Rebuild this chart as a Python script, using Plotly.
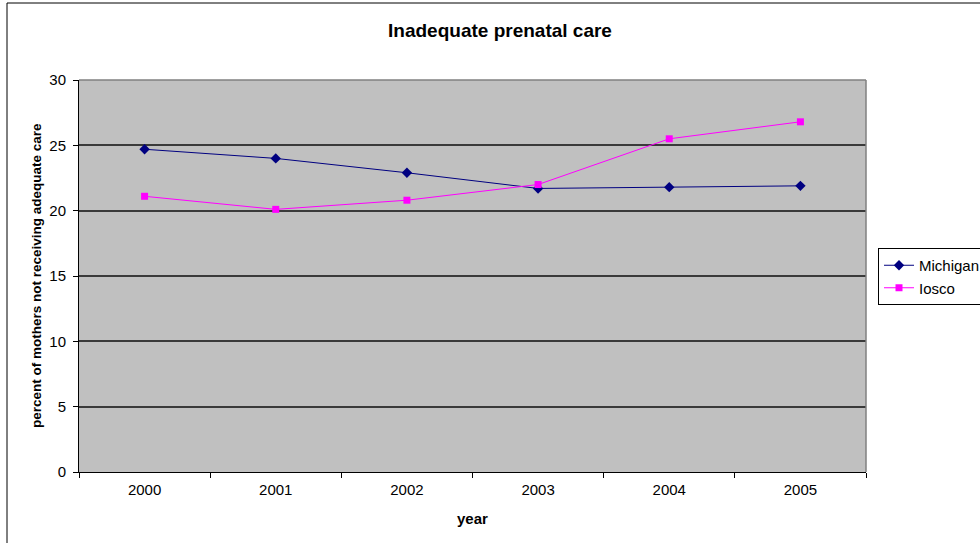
import plotly.graph_objects as go

years = ["2000", "2001", "2002", "2003", "2004", "2005"]
michigan = [24.7, 24.0, 22.9, 21.7, 21.8, 21.9]
iosco = [21.1, 20.1, 20.8, 22.0, 25.5, 26.8]
y_ticks = [0, 5, 10, 15, 20, 25, 30]

FONT = "Liberation Sans, Arial, sans-serif"

fig = go.Figure()
fig.add_trace(go.Scatter(
    x=years, y=michigan, name="Michigan", mode="lines+markers",
    line=dict(color="#000080", width=1),
    marker=dict(symbol="diamond", size=8, color="#000080"),
))
fig.add_trace(go.Scatter(
    x=years, y=iosco, name="Iosco", mode="lines+markers",
    line=dict(color="#FF00FF", width=1),
    marker=dict(symbol="square", size=7, color="#FF00FF"),
))

W, H = 980, 543
L, R, T, B = 79, 866, 80, 472
pw, ph = R - L, B - T

fig.update_layout(
    width=W, height=H,
    margin=dict(l=L, r=W - R, t=T, b=H - B, autoexpand=False),
    paper_bgcolor="white",
    plot_bgcolor="#C0C0C0",
    font=dict(family=FONT, size=15, color="black"),
    title=dict(text="<b>Inadequate prenatal care</b>", x=500 / W, xanchor="center",
               y=1 - 30 / H, yanchor="middle", font=dict(size=19, family=FONT)),
    showlegend=True,
    legend=dict(
        x=(878 - L) / pw, xanchor="left",
        y=(B - 248) / ph, yanchor="top",
        bgcolor="white", bordercolor="black", borderwidth=1,
        font=dict(size=15, family=FONT),
        tracegroupgap=0,
    ),
    xaxis=dict(
        type="category", tickson="boundaries", ticks="outside", ticklen=5,
        tickcolor="black", showline=True, linecolor="black", linewidth=1,
        showgrid=False, zeroline=False, range=[-0.5, 5.5],
        tickfont=dict(size=15), ticklabelstandoff=4,
    ),
    yaxis=dict(
        range=[0, 30], tickvals=y_ticks, ticks="outside", ticklen=5,
        tickcolor="black", showline=True, linecolor="black", linewidth=1,
        showgrid=True, gridcolor="#3a3a3a", gridwidth=1.5, zeroline=False,
        tickfont=dict(size=15), ticklabelstandoff=4,
    ),
    annotations=[
        dict(text="<b>year</b>", xref="paper", yref="paper",
             x=(472 - L) / pw, y=(B - 518) / ph, xanchor="center", yanchor="middle",
             showarrow=False, font=dict(size=15, family=FONT)),
        dict(text="<b>percent of mothers not receiving adequate care</b>",
             xref="paper", yref="paper", textangle=-90,
             x=(36 - L) / pw, y=0.5, xanchor="center", yanchor="middle",
             showarrow=False, font=dict(size=13.5, family=FONT)),
    ],
    shapes=[
        dict(type="rect", xref="paper", yref="paper",
             x0=(7 - L) / pw, x1=(W + 20 - L) / pw,
             y0=(B - (H + 20)) / ph, y1=(B - 3) / ph,
             line=dict(color="black", width=1), fillcolor="rgba(0,0,0,0)", layer="below"),
        dict(type="line", xref="paper", yref="paper", x0=0, x1=1, y0=1, y1=1,
             line=dict(color="#808080", width=1.5)),
        dict(type="line", xref="paper", yref="paper", x0=1, x1=1, y0=0, y1=1,
             line=dict(color="#808080", width=1.5)),
    ],
)

fig.write_html("out.html", config={"displayModeBar": False},
               post_script="document.body.style.margin='0px';")
